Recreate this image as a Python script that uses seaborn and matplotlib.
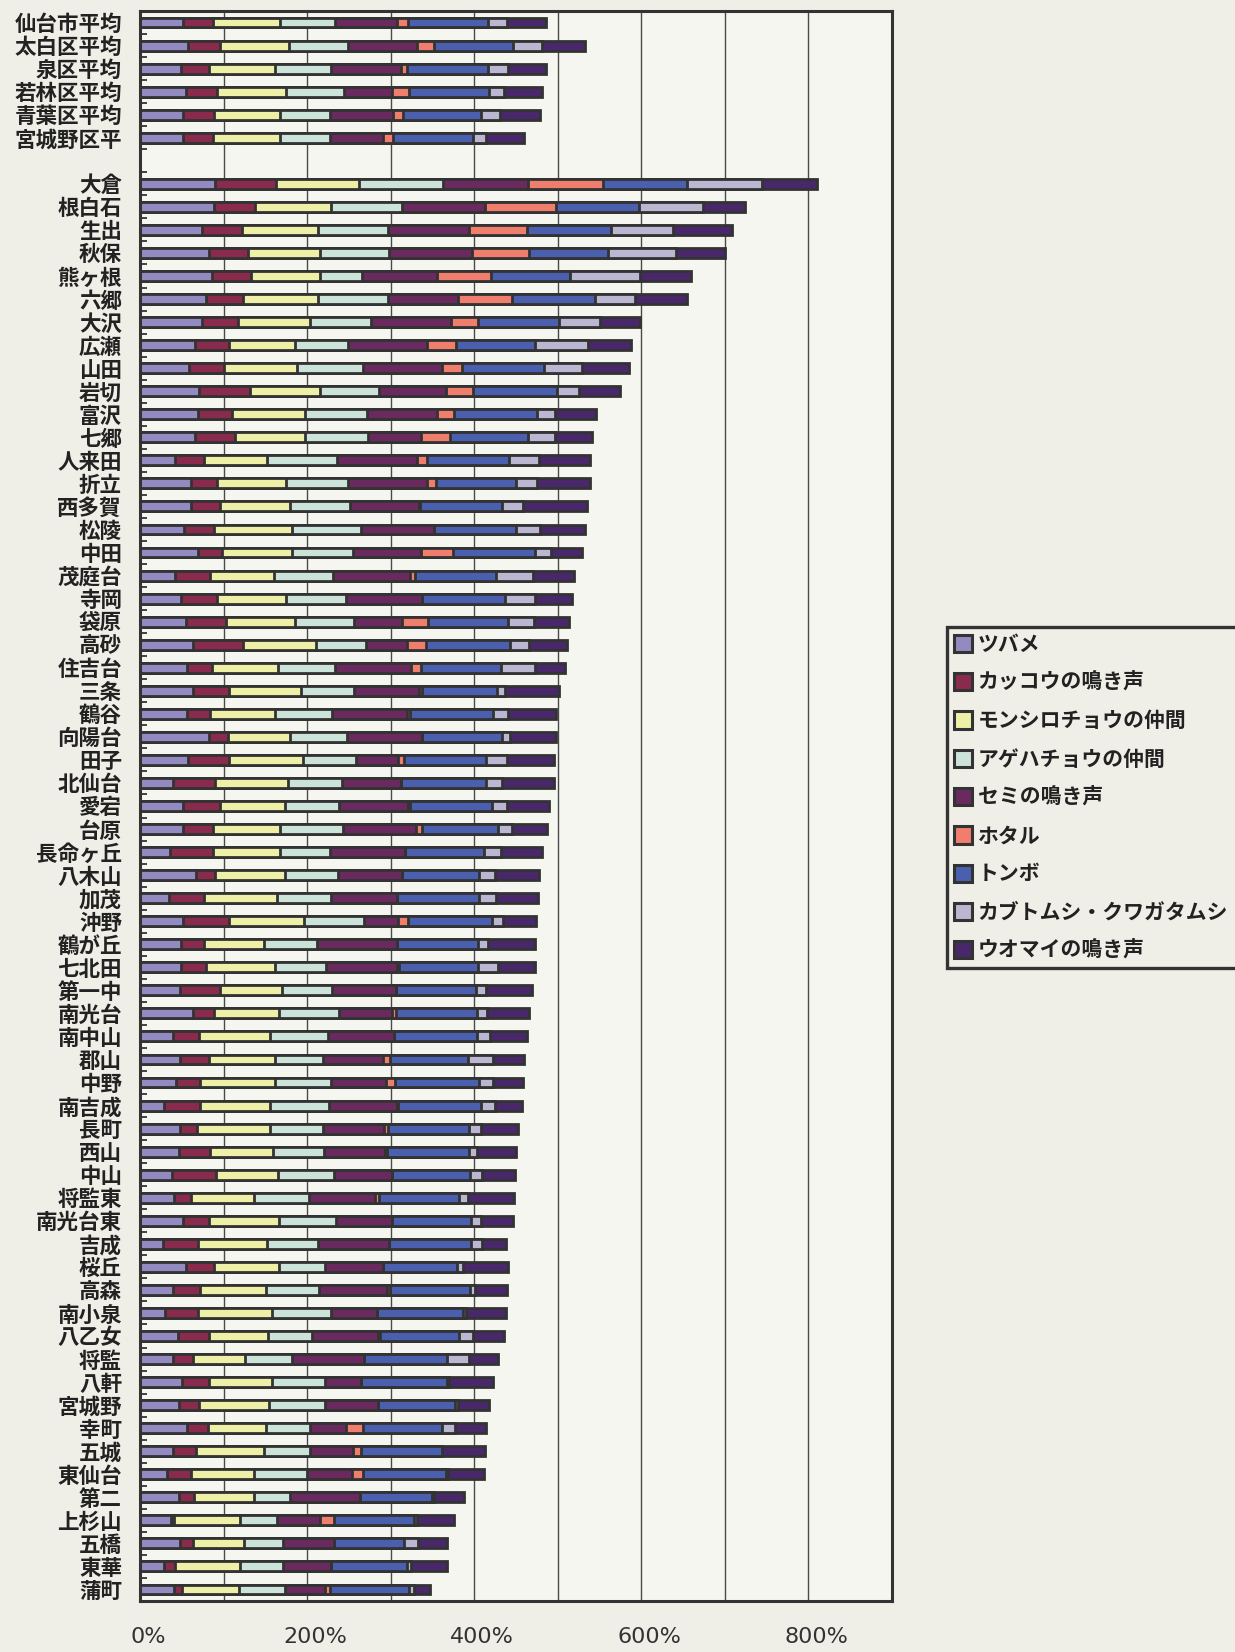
import numpy as np
import pandas as pd
import matplotlib
matplotlib.use("Agg")
import matplotlib.pyplot as plt
from matplotlib.patches import Patch
from matplotlib.transforms import ScaledTranslation
import seaborn as sns

# ---- data (percent of respondents per item, stacked) ----
categories = [
    "仙台市平均", "太白区平均", "泉区平均", "若林区平均", "青葉区平均", "宮城野区平",
    " ",
    "大倉", "根白石", "生出", "秋保", "熊ヶ根", "六郷", "大沢", "広瀬", "山田", "岩切",
    "富沢", "七郷", "人来田", "折立", "西多賀", "松陵", "中田", "茂庭台", "寺岡", "袋原",
    "高砂", "住吉台", "三条", "鶴谷", "向陽台", "田子", "北仙台", "愛宕", "台原", "長命ヶ丘",
    "八木山", "加茂", "沖野", "鶴が丘", "七北田", "第一中", "南光台", "南中山", "郡山", "中野",
    "南吉成", "長町", "西山", "中山", "将監東", "南光台東", "吉成", "桜丘", "高森", "南小泉",
    "八乙女", "将監", "八軒", "宮城野", "幸町", "五城", "東仙台", "第二", "上杉山", "五橋",
    "東華", "蒲町",
]

series_names = [
    "ツバメ", "カッコウの鳴き声", "モンシロチョウの仲間", "アゲハチョウの仲間",
    "セミの鳴き声", "ホタル", "トンボ", "カブトムシ・クワガタムシ", "ウオマイの鳴き声",
]

nan = np.nan
tsubame = [52, 58, 49, 55, 52, 51, nan,
           90, 89, 74, 83, 86, 79, 74, 66, 59, 71, 70, 66, 42, 61, 61, 53, 69, 42, 49, 55,
           64, 56, 63, 56, 82, 58, 40, 52, 51, 36, 67, 35, 52, 49, 49, 48, 63, 40, 48, 43,
           29, 48, 47, 38, 41, 51, 27, 55, 40, 30, 45, 40, 50, 47, 56, 39, 32, 47, 37, 48,
           29, 41]
kakkou = [35, 38, 34, 37, 36, 36, nan,
          73, 49, 48, 46, 47, 44, 43, 40, 41, 61, 40, 48, 34, 31, 35, 35, 29, 42, 43, 48,
          59, 30, 44, 28, 23, 48, 50, 44, 36, 51, 23, 42, 55, 28, 30, 48, 25, 31, 34, 29,
          43, 20, 37, 53, 20, 31, 42, 33, 32, 40, 37, 23, 32, 24, 25, 28, 29, 18, 4, 16,
          13, 9]
monshiro = [80, 82, 79, 83, 79, 80, nan,
            99, 90, 91, 86, 83, 90, 87, 80, 88, 84, 88, 83, 76, 83, 83, 94, 84, 76, 83, 83,
            88, 79, 86, 78, 75, 89, 87, 78, 80, 80, 83, 87, 89, 71, 83, 74, 78, 84, 80, 89,
            83, 88, 75, 74, 76, 84, 83, 78, 79, 88, 71, 63, 76, 83, 70, 82, 75, 72, 79, 61,
            78, 69]
ageha = [66, 71, 66, 69, 60, 60, nan,
         101, 86, 84, 83, 50, 84, 72, 63, 79, 70, 74, 76, 84, 74, 72, 82, 73, 71, 71, 70,
         60, 68, 63, 68, 68, 64, 65, 64, 76, 60, 64, 65, 72, 64, 61, 60, 72, 70, 57, 68,
         71, 63, 61, 67, 65, 68, 61, 55, 63, 71, 53, 56, 63, 68, 53, 55, 64, 42, 44, 46,
         51, 55]
semi = [75, 83, 84, 57, 76, 64, nan,
        101, 99, 97, 99, 90, 83, 96, 94, 94, 80, 83, 63, 95, 95, 83, 88, 81, 92, 91, 57,
        49, 91, 78, 90, 90, 50, 70, 83, 87, 90, 76, 79, 41, 95, 84, 76, 64, 79, 72, 65,
        82, 73, 73, 70, 79, 67, 85, 70, 82, 55, 79, 86, 44, 63, 43, 51, 54, 84, 52, 61,
        57, 47]
hotaru = [13, 20, 8, 21, 12, 12, nan,
          90, 85, 69, 68, 64, 65, 32, 35, 24, 33, 21, 35, 12, 10, 1, 0, 39, 6, 0, 32,
          22, 12, 3, 3, 0, 7, 0, 2, 8, 0, 0, 0, 12, 0, 3, 0, 4, 0, 8, 11,
          1, 5, 3, 0, 5, 0, 0, 0, 3, 0, 2, 0, 0, 0, 20, 10, 13, 0, 16, 0,
          0, 6]
tonbo = [95, 95, 96, 96, 93, 95, nan,
         101, 99, 101, 95, 95, 100, 97, 95, 98, 100, 99, 93, 99, 96, 98, 98, 98, 97, 100, 95,
         101, 96, 90, 99, 95, 98, 102, 98, 91, 95, 93, 98, 100, 97, 94, 96, 97, 99, 94, 101,
         99, 97, 98, 93, 96, 95, 98, 88, 96, 103, 95, 99, 102, 92, 95, 96, 99, 86, 96, 84,
         91, 95]
kabuto = [23, 34, 24, 18, 23, 16, nan,
          90, 77, 74, 81, 84, 48, 50, 63, 46, 26, 22, 33, 36, 25, 25, 29, 19, 44, 36, 32,
          23, 41, 10, 19, 10, 25, 19, 18, 16, 20, 19, 20, 13, 13, 24, 12, 12, 16, 30, 16,
          17, 14, 9, 14, 11, 12, 13, 7, 6, 3, 17, 27, 3, 3, 15, 0, 3, 3, 3, 17,
          5, 6]
uomai = [47, 52, 46, 45, 48, 46, nan,
         65, 50, 71, 59, 61, 62, 48, 52, 56, 50, 49, 44, 60, 63, 77, 53, 37, 49, 44, 42,
         45, 36, 65, 57, 55, 57, 63, 51, 42, 49, 53, 50, 40, 56, 45, 55, 51, 44, 36, 36,
         32, 44, 47, 40, 55, 39, 29, 55, 38, 48, 37, 35, 53, 38, 37, 52, 43, 36, 45, 35,
         44, 19]

colors = ["#948ac2", "#8a2a4c", "#eef0a8", "#cce3d9", "#6a2a60",
          "#f07e6c", "#4a60ae", "#bbb7d2", "#48286a"]

series = [tsubame, kakkou, monshiro, ageha, semi, hotaru, tonbo, kabuto, uomai]

# ---- styling ----
paper = "#f0efe7"
plot_bg = "#f6f6f0"
ink = "#333333"

sns.set_style("white")
plt.rcParams["font.family"] = ["Noto Sans CJK JP", "DejaVu Sans"]

df = pd.DataFrame({"label": categories})
for name, vals in zip(series_names, series):
    df[name] = np.array(vals, dtype=float)
cum = df[series_names].cumsum(axis=1)

fig = plt.figure(figsize=(12.35, 16.52), dpi=100, facecolor=paper)
ax = fig.add_axes([140 / 1235, 1 - 1601 / 1652, 752 / 1235, 1590 / 1652])
ax.set_facecolor(plot_bg)

# stacked bars: draw cumulative totals from the outermost segment inwards
for name, col in reversed(list(zip(series_names, colors))):
    sns.barplot(x=cum[name].values, y=df["label"].values, order=categories,
                orient="h", color=col, saturation=1, width=0.43,
                edgecolor=ink, linewidth=2.0, errorbar=None, ax=ax)

ax.set_xlim(0, 900)
ax.set_ylim(len(categories) - 0.5, -0.5)
ax.set_xlabel("")
ax.set_ylabel("")

# x axis: gridlines every 100%, labels every 200%
xt = list(range(0, 901, 100))
ax.set_xticks(xt)
ax.set_xticklabels([f"{v}%" if (v % 200 == 0 and v <= 800) else "" for v in xt])
ax.tick_params(axis="x", length=0, pad=19, labelsize=16, labelcolor="#333333")
shift = ScaledTranslation(8 / 100, 0, fig.dpi_scale_trans)
for lbl in ax.get_xticklabels():
    lbl.set_fontfamily("DejaVu Sans")
    lbl.set_transform(lbl.get_transform() + shift)
ax.xaxis.grid(True, color="#4a4a4a", linewidth=1.0)
ax.set_axisbelow(True)

# y axis: category labels, small inward ticks between rows
ax.tick_params(axis="y", length=0, pad=13, labelsize=15.5, labelcolor="#222222")
for lbl in ax.get_yticklabels():
    lbl.set_fontweight("bold")
ax.set_yticks(np.arange(0.5, len(categories) - 1, 1.0), minor=True)
ax.tick_params(axis="y", which="minor", direction="in", length=5, width=1.3,
               color=ink, left=True)

for sp in ax.spines.values():
    sp.set_visible(True)
    sp.set_color("#333333")
    sp.set_linewidth(2.2)

# legend box runs off the right edge of the page
handles = [Patch(facecolor=c, edgecolor="#333333", linewidth=2.2) for c in colors]
leg_top = 1 - 627 / 1652
leg = fig.legend(handles, series_names, loc="upper left", mode="expand",
                 bbox_to_anchor=(947 / 1235, 0.3, 305 / 1235, leg_top - 0.3),
                 frameon=True, fancybox=False, edgecolor="#333333",
                 facecolor=paper, framealpha=1,
                 handlelength=0.9, handleheight=0.9,
                 handletextpad=0.25, labelspacing=0.83, borderpad=0.32,
                 borderaxespad=0, prop={"weight": "bold", "size": 15})
leg.get_frame().set_linewidth(2.4)
for t in leg.get_texts():
    t.set_color("#222222")

fig.savefig("out.png", dpi=100, facecolor=paper)
